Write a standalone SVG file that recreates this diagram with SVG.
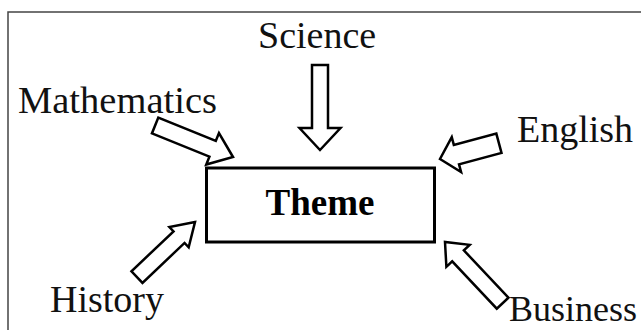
<svg xmlns="http://www.w3.org/2000/svg" width="641" height="330" viewBox="0 0 641 330">
<style>
  .lbl { font-family: "Liberation Serif", "Times New Roman", serif; font-size: 38px; fill: #111; }
  .title { font-family: "Liberation Serif", "Times New Roman", serif; font-size: 37px; font-weight: bold; fill: #000; }
  .arrow { fill: #fff; stroke: #000; stroke-width: 2.5; stroke-linejoin: miter; }
  .box { fill: #fff; stroke: #000; stroke-width: 3; }
  .frame { fill: none; stroke: #444; stroke-width: 1.5; }
</style>
<rect x="0" y="0" width="641" height="330" fill="#fff"/>
<path class="frame" d="M8,330 V12 H641"/>
<g id="theme">
  <rect class="box" x="206.5" y="168" width="228" height="74"/>
  <text class="title" x="320" y="215" text-anchor="middle">Theme</text>
</g>
<g id="science"><text class="lbl" x="258" y="48">Science</text></g>
<g id="mathematics"><text class="lbl" x="18" y="113" textLength="199" lengthAdjust="spacingAndGlyphs">Mathematics</text></g>
<g id="english"><text class="lbl" x="517" y="142">English</text></g>
<g id="history"><text class="lbl" x="50" y="312">History</text></g>
<g id="business"><text class="lbl" x="509" y="321" style="font-size:36px">Business</text></g>
<g id="connectors">
  <polygon class="arrow" transform="translate(320,150) rotate(90)" points="0,0 -22,-20.5 -22,-8 -85,-8 -85,8 -22,8 -22,20.5"/>
  <polygon class="arrow" transform="translate(233,157) rotate(22)" points="0,0 -22,-17 -22,-8.5 -84,-8.5 -84,8.5 -22,8.5 -22,17"/>
  <polygon class="arrow" transform="translate(440,159) rotate(165)" points="0,0 -17,-18 -17,-10 -61,-10 -61,10 -17,10 -17,18"/>
  <polygon class="arrow" transform="translate(195,222) rotate(-43.5)" points="0,0 -22,-14 -22,-8 -80,-8 -80,8 -22,8 -22,14"/>
  <polygon class="arrow" transform="translate(445,242) rotate(-133.3)" points="0,0 -19,-16 -19,-8 -84,-8 -84,8 -19,8 -19,16"/>
</g>
</svg>
